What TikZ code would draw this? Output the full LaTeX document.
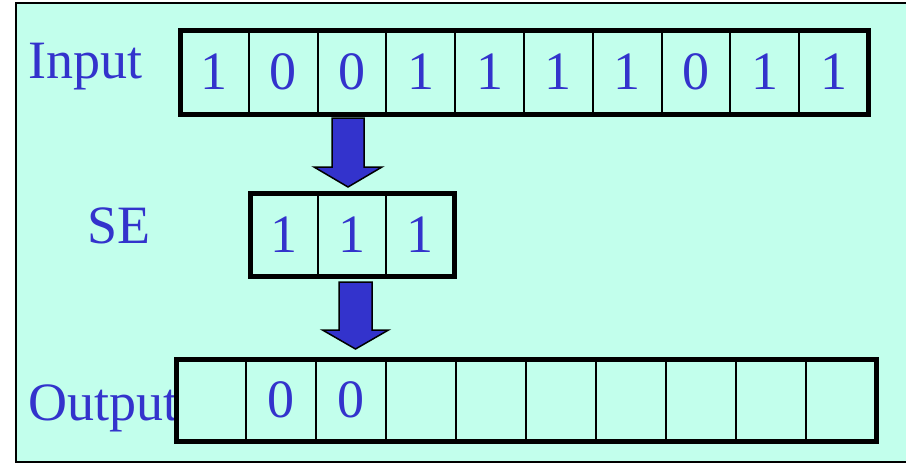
\documentclass[tikz,border=0pt]{standalone}
\usepackage{fontspec}
\setmainfont{Liberation Serif}
\usepackage{tikz}
\usetikzlibrary{calc}
\definecolor{bgcyan}{RGB}{194,255,236}
\definecolor{txtblue}{RGB}{51,51,204}
\tikzstyle{bit}=[rectangle, draw, line width=2pt,% one cell of a row
inner sep=0pt, outer sep=0pt, text=txtblue, font=\fontsize{54}{60}\selectfont]
\tikzstyle{rowbox}=[line width=5pt]
\tikzstyle{rowlabel}=[anchor=base west, inner sep=0pt, text=txtblue, font=\fontsize{54}{60}\selectfont]
\tikzstyle{bigarrow}=[draw=black, fill=txtblue, line width=1.5pt, line join=miter]
\begin{document}
\begin{tikzpicture}[x=1pt,y=-1pt]
\useasboundingbox (0,0) rectangle (906,463);
\fill[bgcyan] (16,3) rectangle (912,462);
\draw[line width=1.5pt] (16,3) rectangle (912,462);
% input row
\node[rowlabel] (lin) at (28,78) {Input};
\node[bit, minimum width=68.8pt, minimum height=84pt] (i1) at (214.4,72) {1};
\node[bit, minimum width=68.8pt, minimum height=84pt] (i2) at (283.2,72) {0};
\node[bit, minimum width=68.8pt, minimum height=84pt] (i3) at (352,72) {0};
\node[bit, minimum width=68.8pt, minimum height=84pt] (i4) at (420.8,72) {1};
\node[bit, minimum width=68.8pt, minimum height=84pt] (i5) at (489.6,72) {1};
\node[bit, minimum width=68.8pt, minimum height=84pt] (i6) at (558.4,72) {1};
\node[bit, minimum width=68.8pt, minimum height=84pt] (i7) at (627.2,72) {1};
\node[bit, minimum width=68.8pt, minimum height=84pt] (i8) at (696,72) {0};
\node[bit, minimum width=68.8pt, minimum height=84pt] (i9) at (764.8,72) {1};
\node[bit, minimum width=68.8pt, minimum height=84pt] (i10) at (833.6,72) {1};
\draw[rowbox] (i1.north west) rectangle (i10.south east);
% structuring element
\node[rowlabel] (lse) at (87,243) {SE};
\node[bit, minimum width=68pt, minimum height=83pt] (s1) at (284,234.5) {1};
\node[bit, minimum width=68pt, minimum height=83pt] (s2) at (352,234.5) {1};
\node[bit, minimum width=68pt, minimum height=83pt] (s3) at (420,234.5) {1};
\draw[rowbox] (s1.north west) rectangle (s3.south east);
% output row
\node[rowlabel] (lout) at (28,420) {Output};
\node[bit, minimum width=70pt, minimum height=82pt] (o1) at (211,400) {};
\node[bit, minimum width=70pt, minimum height=82pt] (o2) at (281,400) {0};
\node[bit, minimum width=70pt, minimum height=82pt] (o3) at (351,400) {0};
\node[bit, minimum width=70pt, minimum height=82pt] (o4) at (421,400) {};
\node[bit, minimum width=70pt, minimum height=82pt] (o5) at (491,400) {};
\node[bit, minimum width=70pt, minimum height=82pt] (o6) at (561,400) {};
\node[bit, minimum width=70pt, minimum height=82pt] (o7) at (631,400) {};
\node[bit, minimum width=70pt, minimum height=82pt] (o8) at (701,400) {};
\node[bit, minimum width=70pt, minimum height=82pt] (o9) at (771,400) {};
\node[bit, minimum width=70pt, minimum height=82pt] (o10) at (841,400) {};
\draw[rowbox] (o1.north west) rectangle (o10.south east);
% block arrows
\coordinate (a1) at (348,118);
\coordinate (a2) at (355.5,282);
\draw[bigarrow] (a1) ++(-16,0) -- ++(0,49) -- ++(-18,0) -- ++(34,20) -- ++(34,-20) -- ++(-18,0) -- ++(0,-49) -- cycle;
\draw[bigarrow] (a2) ++(-16.5,0) -- ++(0,48) -- ++(-16.5,0) -- ++(33,19) -- ++(33,-19) -- ++(-16.5,0) -- ++(0,-48) -- cycle;
\end{tikzpicture}
\end{document}
